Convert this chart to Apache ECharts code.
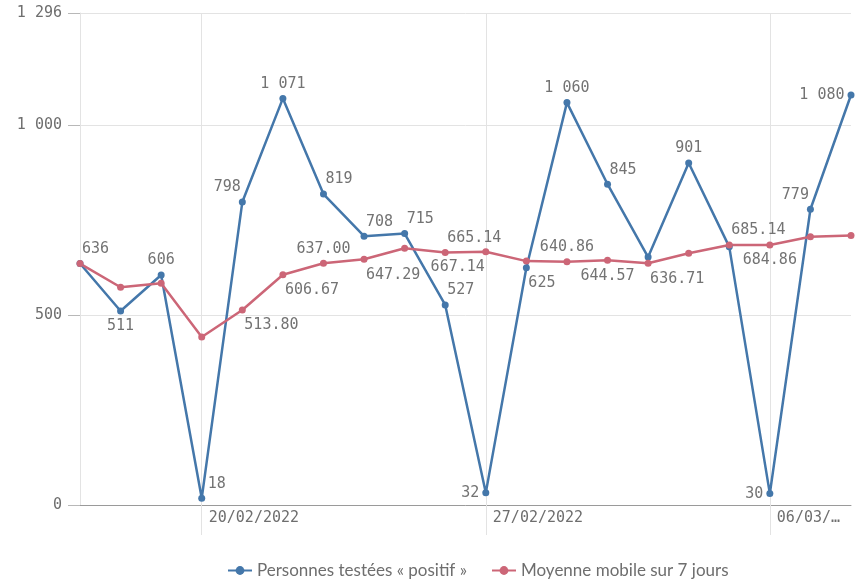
<!DOCTYPE html>
<html>
<head>
<meta charset="utf-8">
<script src="https://cdn.jsdelivr.net/npm/echarts@6/dist/echarts.min.js"></script>
<style>
html,body{margin:0;padding:0;background:#fff;}
#chart{width:865px;height:583px;}
</style>
</head>
<body>
<div id="chart"></div>
<script>
// ---- data ----
const categories = ['17/02/2022','18/02/2022','19/02/2022','20/02/2022','21/02/2022','22/02/2022','23/02/2022',
  '24/02/2022','25/02/2022','26/02/2022','27/02/2022','28/02/2022','01/03/2022','02/03/2022','03/03/2022',
  '04/03/2022','05/03/2022','06/03/2022','07/03/2022','08/03/2022'];
const positives = [636, 511, 606, 18, 798, 1071, 819, 708, 715, 527, 32, 625, 1060, 845, 653, 901, 680, 30, 779, 1080];
const movingAvg = [636, 573.5, 584.33, 442.75, 513.80, 606.67, 637.00, 647.29, 676.43, 665.14, 667.14, 642.43,
  640.86, 644.57, 636.71, 663.29, 685.14, 684.86, 706.86, 709.71];
const seriesNames = ['Personnes testées « positif »', 'Moyenne mobile sur 7 jours'];
const yMax = 1296;

// ---- label placement (layout only) ----
const bluePlace = ['tr','b','t','tr18','tl','t','tr','tr','tr','tr','l','br','t','tr',null,'t',null,'l','tl','l'];
const redPlace  = [null,null,null,null,'br','br','t','br',null,'tr','bl',null,'t','b','br',null,'tr','b',null,null];

const MONO = '"DejaVu Sans Mono", "Liberation Mono", monospace';
const labelColor = '#737373';

function fmtInt(v){
  v = Math.round(v);
  if (v >= 1000) return Math.floor(v/1000) + ' ' + String(v % 1000).padStart(3,'0');
  return String(v);
}
function labelCfg(code, fmt){
  if (!code) return {show:false};
  const base = {show:true, color:labelColor, fontFamily:MONO, fontSize:15, lineHeight:16, formatter: fmt};
  switch(code){
    case 't':  return Object.assign(base,{position:'top', distance:3});
    case 'b':  return Object.assign(base,{position:'bottom', distance:4});
    case 'tr': return Object.assign(base,{position:'top', distance:3, align:'left', offset:[2,0]});
    case 'tr18': return Object.assign(base,{position:'top', distance:3, align:'left', offset:[6,0]});
    case 'tl': return Object.assign(base,{position:'top', distance:3, align:'right', offset:[-1.5,0]});
    case 'br': return Object.assign(base,{position:'bottom', distance:4, align:'left', offset:[2,0]});
    case 'bl': return Object.assign(base,{position:'bottom', distance:4, align:'right', offset:[-1,0]});
    case 'l':  return Object.assign(base,{position:'left', distance:3});
  }
  return {show:false};
}

const blueData = positives.map((v,i)=>({value:v, label:labelCfg(bluePlace[i], p=>fmtInt(p.value))}));
const redData = movingAvg.map((v,i)=>({value:v, label:labelCfg(redPlace[i], p=>Number(p.value).toFixed(2))}));

const weekly = (i)=> i % 7 === 3;

const chart = echarts.init(document.getElementById('chart'), null, {renderer:'canvas'});
chart.setOption({
  animation:false,
  backgroundColor:'#fff',
  grid:{left:80, right:14, top:13, bottom:78, containLabel:false},
  legend:{
    top:557, left:222,
    itemWidth:24, itemHeight:11, itemGap:24,
    textStyle:{fontFamily:'Lato', fontSize:17, color:'#6e6e6e'},
    data: seriesNames
  },
  xAxis:{
    type:'category', data:categories, boundaryGap:false,
    axisLine:{show:true, lineStyle:{color:'#9a9a9a', width:1}},
    axisTick:{show:true, interval:weekly, length:30, lineStyle:{color:'#e3e3e3'}},
    splitLine:{show:true, interval:weekly, lineStyle:{color:'#e3e3e3'}},
    axisLabel:{
      interval:weekly, align:'left', margin:6, padding:[0,0,0,7],
      color:'#6e6e6e', fontFamily:MONO, fontSize:15,
      formatter:(val, idx)=> idx >= categories.length - 3 ? val.slice(0,6) + '…' : val
    }
  },
  yAxis:{
    type:'value', min:0, max:yMax, interval:500,
    axisLine:{show:true, lineStyle:{color:'#e3e3e3'}},
    axisTick:{show:true, length:12, lineStyle:{color:'#b8b8b8'}},
    splitLine:{show:true, lineStyle:{color:'#e3e3e3'}},
    axisLabel:{margin:18, color:'#6e6e6e', fontFamily:MONO, fontSize:15, formatter:v=>fmtInt(v)}
  },
  series:[
    {name:seriesNames[0], type:'line', data:blueData, color:'#4477aa',
     symbol:'circle', symbolSize:7, showAllSymbol:true,
     lineStyle:{width:2.5}, itemStyle:{color:'#4477aa'}, emphasis:{disabled:true}},
    {name:seriesNames[1], type:'line', data:redData, color:'#cc6677',
     symbol:'circle', symbolSize:7, showAllSymbol:true,
     lineStyle:{width:2.5}, itemStyle:{color:'#cc6677'}, emphasis:{disabled:true}}
  ]
});
</script>
</body>
</html>
